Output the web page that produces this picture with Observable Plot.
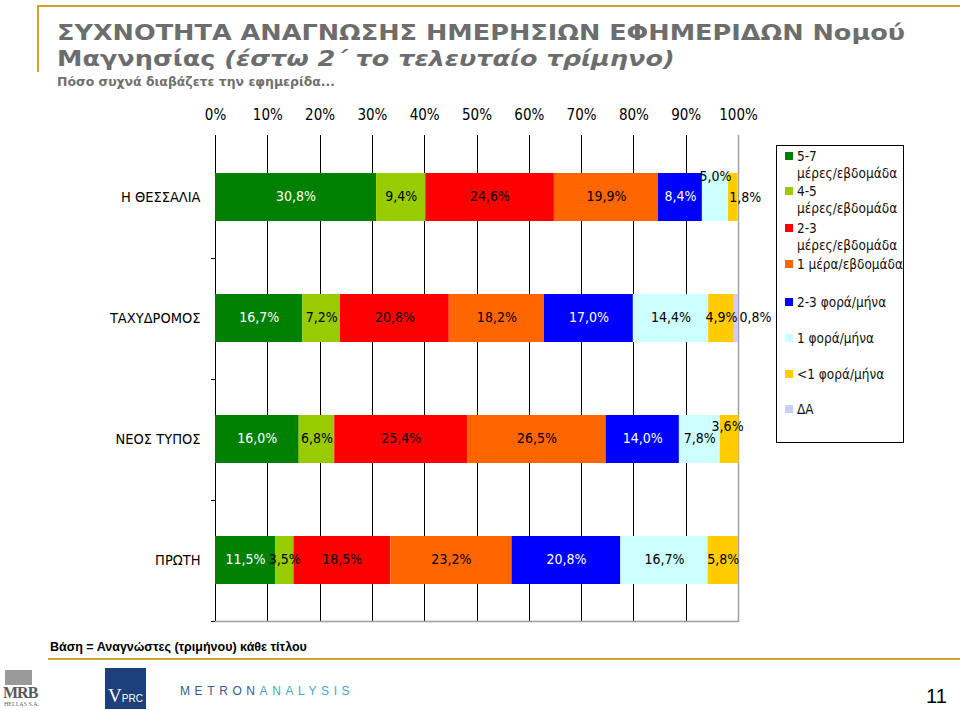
<!DOCTYPE html>
<html><head><meta charset="utf-8">
<script src="https://cdn.jsdelivr.net/npm/d3@7"></script>
<script src="https://cdn.jsdelivr.net/npm/@observablehq/plot@0.6"></script>
<style>
body{margin:0;background:#fff;}
#page{position:relative;width:960px;height:710px;overflow:hidden;font-family:"DejaVu Sans Condensed","DejaVu Sans",sans-serif;background:#fff;}
.abs{position:absolute;}
.title{left:57px;font-family:"DejaVu Sans",sans-serif;font-size:22px;line-height:26px;height:26px;font-weight:bold;color:#6d6d6d;white-space:nowrap;transform-origin:0 0;}
#subtitle{left:57px;top:74px;font-family:"DejaVu Sans",sans-serif;font-size:13px;line-height:15px;font-weight:bold;color:#707070;white-space:nowrap;transform-origin:0 0;}
#chart{left:0;top:90px;}
#legend{left:776px;top:145px;width:128px;height:298px;border:1px solid #000;box-sizing:border-box;}
.li{position:absolute;left:20px;font-size:13.5px;line-height:17px;color:#111;white-space:nowrap;}
.sw{position:absolute;left:-12px;top:4px;width:8px;height:8px;}
#foot{left:50px;top:640px;font-family:"Liberation Sans Narrow","Liberation Sans",sans-serif;font-weight:bold;font-size:12.5px;color:#000;white-space:nowrap;}
</style></head><body><div id="page">
<div class="abs" style="left:38px;top:5px;width:922px;height:2px;background:#cfa22e"></div>
<div class="abs" style="left:37px;top:5px;width:2px;height:67px;background:#cfa22e"></div>
<div id="title1" class="abs title" style="top:20px">ΣΥΧΝΟΤΗΤΑ ΑΝΑΓΝΩΣΗΣ ΗΜΕΡΗΣΙΩΝ ΕΦΗΜΕΡΙΔΩΝ Νομού</div>
<div id="title2" class="abs title" style="top:46px">Μαγνησίας <i>(έστω 2΄ το τελευταίο τρίμηνο)</i></div>
<div id="subtitle" class="abs">Πόσο συχνά διαβάζετε την εφημερίδα...</div>
<div id="chart" class="abs"></div>
<div id="legend" class="abs"></div>
<div id="foot" class="abs">Βάση = Αναγνώστες (τριμήνου) κάθε τίτλου</div>
<div class="abs" style="left:48px;top:658px;width:912px;height:2px;background:#cfa22e"></div>
<div class="abs" style="left:5px;top:670px;width:27px;height:15px;background:#9a9a9a"></div>
<div class="abs" style="left:3px;top:684px;font-family:'Liberation Serif',serif;font-weight:bold;font-size:16px;color:#5a5a5a;letter-spacing:-1px">MRB</div>
<div class="abs" style="left:4px;top:701px;font-family:'Liberation Serif',serif;font-size:6px;color:#666">HELLAS S.A.</div>
<div class="abs" style="left:105px;top:668px;width:41px;height:41px;background:#1d3f7a;overflow:hidden">
  <div style="position:absolute;left:3px;top:17px;font-family:'Liberation Serif',serif;font-size:19px;color:#fff;white-space:nowrap">V<span style="font-family:'Liberation Sans Narrow','Liberation Sans',sans-serif;font-size:10px">PRC</span></div>
</div>
<div class="abs" style="left:180px;top:684px;font-family:'Liberation Sans',sans-serif;font-size:12px;letter-spacing:4.6px;white-space:nowrap"><span style="color:#3a5a8f">METRON</span><span style="color:#3fa9bd">ANALYSIS</span></div>
<div class="abs" style="left:926px;top:685px;font-family:'Liberation Sans Narrow','Liberation Sans',sans-serif;font-size:20px;line-height:22px;color:#000">11</div>
</div>
<script>
const categories = ["Η ΘΕΣΣΑΛΙΑ", "ΤΑΧΥΔΡΟΜΟΣ", "ΝΕΟΣ ΤΥΠΟΣ", "ΠΡΩΤΗ"];
const seriesNames = ["5-7 μέρες/εβδομάδα", "4-5 μέρες/εβδομάδα", "2-3 μέρες/εβδομάδα", "1 μέρα/εβδομάδα", "2-3 φορά/μήνα", "1 φορά/μήνα", "<1 φορά/μήνα", "ΔΑ"];
const seriesColors = ["#008000", "#99cc00", "#ff0000", "#ff6600", "#0000ff", "#ccffff", "#ffcc00", "#ccccff"];
const thessalia   = [30.8, 9.4, 24.6, 19.9, 8.4, 5.0, 1.8, 0];
const tachydromos = [16.7, 7.2, 20.8, 18.2, 17.0, 14.4, 4.9, 0.8];
const neosTypos   = [16.0, 6.8, 25.4, 26.5, 14.0, 7.8, 3.6, 0];
const proti       = [11.5, 3.5, 18.5, 23.2, 20.8, 16.7, 5.8, 0];
const xTicks = [0, 10, 20, 30, 40, 50, 60, 70, 80, 90, 100];
const xTickLabels = ["0%", "10%", "20%", "30%", "40%", "50%", "60%", "70%", "80%", "90%", "100%"];

const rowValues = [thessalia, tachydromos, neosTypos, proti];
const data = [];
categories.forEach((c, i) => seriesNames.forEach((s, j) => data.push({cat: c, series: s, si: j, value: rowValues[i][j]})));

const fmt = v => v.toFixed(1).replace(".", ",") + "%";
const whiteText = new Set([0, 4]);
// label placement exceptions (layout only)
const offsets = [
  {cat: "Η ΘΕΣΣΑΛΙΑ", si: 5, dx: 0, dy: -20},
  {cat: "Η ΘΕΣΣΑΛΙΑ", si: 6, dx: 12, dy: 1},
  {cat: "ΤΑΧΥΔΡΟΜΟΣ", si: 7, dx: 19, dy: 0},
  {cat: "ΝΕΟΣ ΤΥΠΟΣ", si: 6, dx: -2, dy: -12}
];
const isSpecial = d => offsets.some(o => o.cat === d.cat && o.si === d.si);

const W = 770, H = 545, mT = 45, mB = 13, mL = 215, mR = 32;
const step = (H - mT - mB) / categories.length;
const font = '"DejaVu Sans Condensed","DejaVu Sans",sans-serif';

const labelMark = (include, dx, dy) => Plot.text(data, Plot.stackX({
  x: "value", y: "cat", z: "series",
  text: d => (d.value > 0 && include(d)) ? fmt(d.value) : null,
  fill: d => whiteText.has(d.si) ? "#ffffff" : "#000000",
  fontSize: 14, dx, dy: dy - 1
}));

const chart = Plot.plot({
  width: W, height: H,
  marginLeft: mL, marginRight: mR, marginTop: mT, marginBottom: mB,
  style: {fontFamily: font, fontSize: "14px", color: "#000", background: "transparent", overflow: "visible"},
  x: {domain: [0, 100], axis: "top", ticks: xTicks, tickFormat: d => xTickLabels[xTicks.indexOf(d)], tickSize: 0, tickPadding: 16, label: null},
  y: {domain: categories, paddingInner: 0.606, paddingOuter: 0.303, tickSize: 0, tickPadding: 15, label: null},
  color: {domain: seriesNames, range: seriesColors},
  marks: [
    Plot.ruleX(xTicks.filter(t => t < 100), {stroke: "#000", strokeWidth: 1, shapeRendering: "crispEdges"}),
    Plot.ruleX([100], {stroke: "#a0a0a0", strokeWidth: 1.5}),
    Plot.ruleY([categories[categories.length - 1]], {x1: 0, x2: 100, dy: step / 2, stroke: "#a0a0a0", strokeWidth: 1.5}),
    Plot.ruleY(categories, {x1: -0.8, x2: 0, dy: step / 2, stroke: "#000", shapeRendering: "crispEdges"}),
    Plot.barX(data, Plot.stackX({x: "value", y: "cat", z: "series", fill: "series"})),
    labelMark(d => !isSpecial(d), 0, 0),
    ...offsets.map(o => labelMark(d => d.cat === o.cat && d.si === o.si, o.dx, o.dy))
  ]
});
document.getElementById("chart").appendChild(chart);
chart.querySelectorAll('g[aria-label="x-axis tick label"]').forEach(e => e.setAttribute("font-size", "15"));
chart.querySelectorAll('g[aria-label="y-axis tick label"]').forEach(e => e.setAttribute("font-size", "14.5"));

// legend
const legendTops = [2, 37, 74, 110, 148, 184, 220, 255];
const legend = document.getElementById("legend");
seriesNames.forEach((s, j) => {
  const div = document.createElement("div");
  div.className = "li";
  div.style.top = legendTops[j] + "px";
  const parts = s.match(/^(\d-\d) (μέρες\/εβδομάδα)$/);
  div.innerHTML = '<span class="sw" style="background:' + seriesColors[j] + '"></span>' +
    (parts ? parts[1] + "<br>" + parts[2] : s.replace("<", "&lt;"));
  legend.appendChild(div);
});

// fit title and subtitle widths to reference
const textWidth = el => { const r = document.createRange(); r.selectNodeContents(el); return r.getBoundingClientRect().width; };
const k = 848 / textWidth(document.getElementById("title1"));
["title1", "title2"].forEach(id => document.getElementById(id).style.transform = "scaleX(" + k + ")");
const sub = document.getElementById("subtitle");
sub.style.transform = "scaleX(" + (278 / textWidth(sub)) + ")";
</script>
</body></html>
